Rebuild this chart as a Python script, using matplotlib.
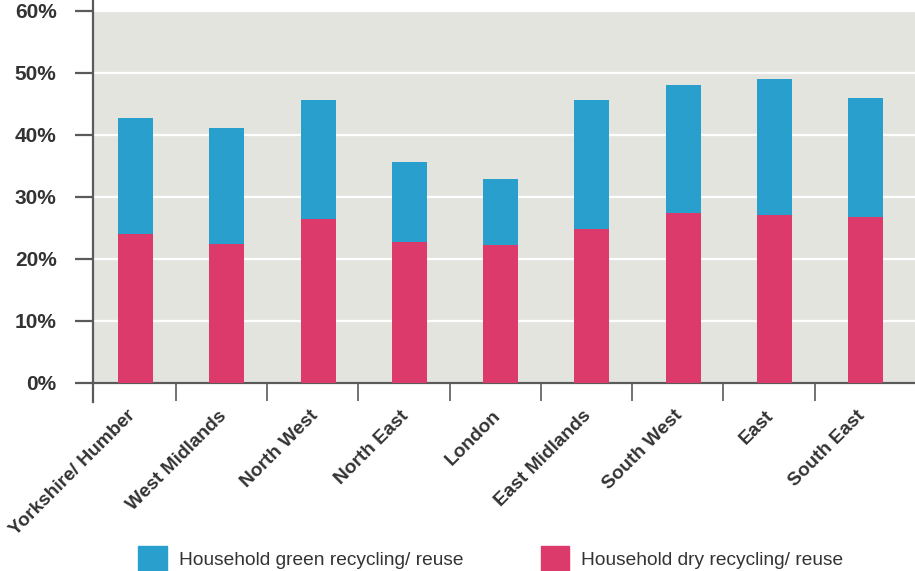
import matplotlib.pyplot as plt
import matplotlib.transforms as mtransforms
import numpy as np
from matplotlib.patches import Patch

plt.rcParams['font.family'] = ['Liberation Sans', 'DejaVu Sans']

regions = ['Yorkshire/ Humber', 'West Midlands', 'North West', 'North East',
           'London', 'East Midlands', 'South West', 'East', 'South East']
dry = [24.1, 22.5, 26.4, 22.7, 22.2, 24.8, 27.4, 27.1, 26.7]
total = [42.7, 41.2, 45.6, 35.6, 32.9, 45.6, 48.1, 49.1, 45.9]
green = [t - d for t, d in zip(total, dry)]
yticks = [0, 10, 20, 30, 40, 50, 60]

blue = '#299FCE'
pink = '#DC3A6B'
bg = '#E4E4DF'
axis_col = '#5a5a5a'
text_col = '#333333'

fig = plt.figure(figsize=(9.15, 5.71), dpi=100)
ax = fig.add_axes([92.7 / 915, 1 - 383 / 571, 1 - 92.7 / 915, (383 - 11) / 571])
ax.set_facecolor(bg)

x = np.arange(len(regions))
ax.bar(x, dry, width=0.385, color=pink, zorder=3)
ax.bar(x, green, bottom=dry, width=0.385, color=blue, zorder=3)

ax.set_ylim(0, 60)
ax.set_xlim(-0.47, 8.54)
ax.set_yticks(yticks)
ax.set_yticklabels([f'{v}%' for v in yticks])
ax.yaxis.grid(True, color='white', linewidth=1.6, zorder=1)
ax.set_axisbelow(True)

for s in ['top', 'right']:
    ax.spines[s].set_visible(False)
ax.spines['left'].set_color(axis_col)
ax.spines['left'].set_linewidth(1.6)
ax.spines['left'].set_bounds(-3, 61.8)
ax.spines['bottom'].set_color(axis_col)
ax.spines['bottom'].set_linewidth(1.6)

ax.tick_params(axis='y', length=13, width=1.6, color=axis_col, pad=13,
               labelsize=15, labelcolor=text_col)
for lab in ax.get_yticklabels():
    lab.set_fontweight('bold')

# category separators as ticks, labels under the bars
ax.set_xticks(np.arange(8) + 0.44, minor=True)
ax.tick_params(axis='x', which='minor', length=13, width=1.2, color=axis_col)
ax.set_xticks(x)
ax.set_xticklabels(regions, rotation=45, ha='right', rotation_mode='anchor',
                   fontsize=13.8, fontweight='bold', color=text_col)
ax.tick_params(axis='x', which='major', length=0, pad=16)
shift = mtransforms.ScaledTranslation(-9 / 100, -2 / 100, fig.dpi_scale_trans)
for lab in ax.get_xticklabels():
    lab.set_transform(lab.get_transform() + shift)

handles = [Patch(color=blue, label='Household green recycling/ reuse'),
           Patch(color=pink, label='Household dry recycling/ reuse')]
fig.legend(handles=handles, loc='center', bbox_to_anchor=(0.5363, 0.022), ncol=2,
           frameon=False, fontsize=13.8, handlelength=1.5, handleheight=1.6,
           handletextpad=0.6, columnspacing=4.05, labelcolor=text_col)

fig.savefig('out.png', dpi=100)
